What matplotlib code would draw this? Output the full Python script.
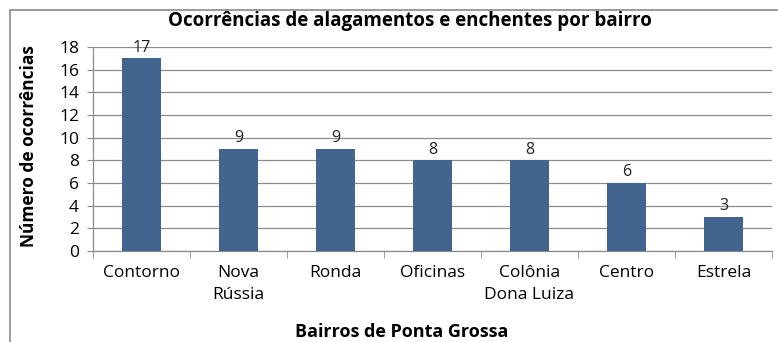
import matplotlib
matplotlib.use("Agg")
import matplotlib.pyplot as plt
from matplotlib.patches import Rectangle

BAIRROS = ["Contorno", "Nova\nRússia", "Ronda", "Oficinas",
           "Colônia\nDona Luiza", "Centro", "Estrela"]
OCORRENCIAS = [17, 9, 9, 8, 8, 6, 3]
Y_TICKS = list(range(0, 19, 2))

BAR_COLOR = "#41658E"
GRID_COLOR = "#8C8C8C"

plt.rcParams["font.family"] = ["Open Sans", "DejaVu Sans"]

W, H = 778, 342
fig = plt.figure(figsize=(W / 100, H / 100), dpi=100)
ax = fig.add_axes([93 / W, 1 - 251 / H, (772 - 93) / W, (251 - 47) / H])

# outer frame of the chart (cut at right/bottom like the source image)
fig.patches.append(Rectangle((10 / W, -0.05), 1.2, (1 - 10 / H) + 0.05,
                             transform=fig.transFigure, fill=False,
                             edgecolor="#8A8A8A", linewidth=1.2))

x = range(len(BAIRROS))
bars = ax.bar(x, OCORRENCIAS, width=0.41, color=BAR_COLOR, zorder=3)
for b, v in zip(bars, OCORRENCIAS):
    ax.annotate(str(v), (b.get_x() + b.get_width() / 2, v),
                xytext=(0, 2), textcoords="offset points",
                ha="center", va="bottom", fontsize=11.5, color="#222222",
                zorder=4)

ax.set_xlim(-0.5, len(BAIRROS) - 0.5)
ax.set_ylim(0, 18)
ax.set_yticks(Y_TICKS)
ax.yaxis.grid(True, color=GRID_COLOR, linewidth=0.9, zorder=0)
ax.set_axisbelow(True)

# category labels centred, tick marks at category boundaries
ax.set_xticks(list(x))
ax.set_xticklabels(BAIRROS, fontsize=12.5, linespacing=1.5)
ax.set_xticks([i - 0.5 for i in range(len(BAIRROS) + 1)], minor=True)
ax.tick_params(axis="x", which="major", length=0, pad=10)
ax.tick_params(axis="x", which="minor", length=5, color=GRID_COLOR,
               direction="out")
ax.tick_params(axis="y", length=4, color=GRID_COLOR, labelsize=12.5,
               pad=6)
for lbl in ax.get_xticklabels():
    lbl.set_verticalalignment("top")

for side in ["top", "right"]:
    ax.spines[side].set_visible(False)
for side in ["left", "bottom"]:
    ax.spines[side].set_color(GRID_COLOR)
    ax.spines[side].set_linewidth(0.9)

fig.text(410 / W, 1 - 21 / H, "Ocorrências de alagamentos e enchentes por bairro",
         ha="center", va="center", fontsize=13.5, fontweight="bold")
fig.text(29 / W, 1 - 146 / H, "Número de ocorrências", rotation=90,
         ha="center", va="center", fontsize=12.5, fontweight="bold")
fig.text(402 / W, 1 - 332 / H, "Bairros de Ponta Grossa",
         ha="center", va="center", fontsize=13, fontweight="bold")

fig.savefig("out.png", dpi=100)
